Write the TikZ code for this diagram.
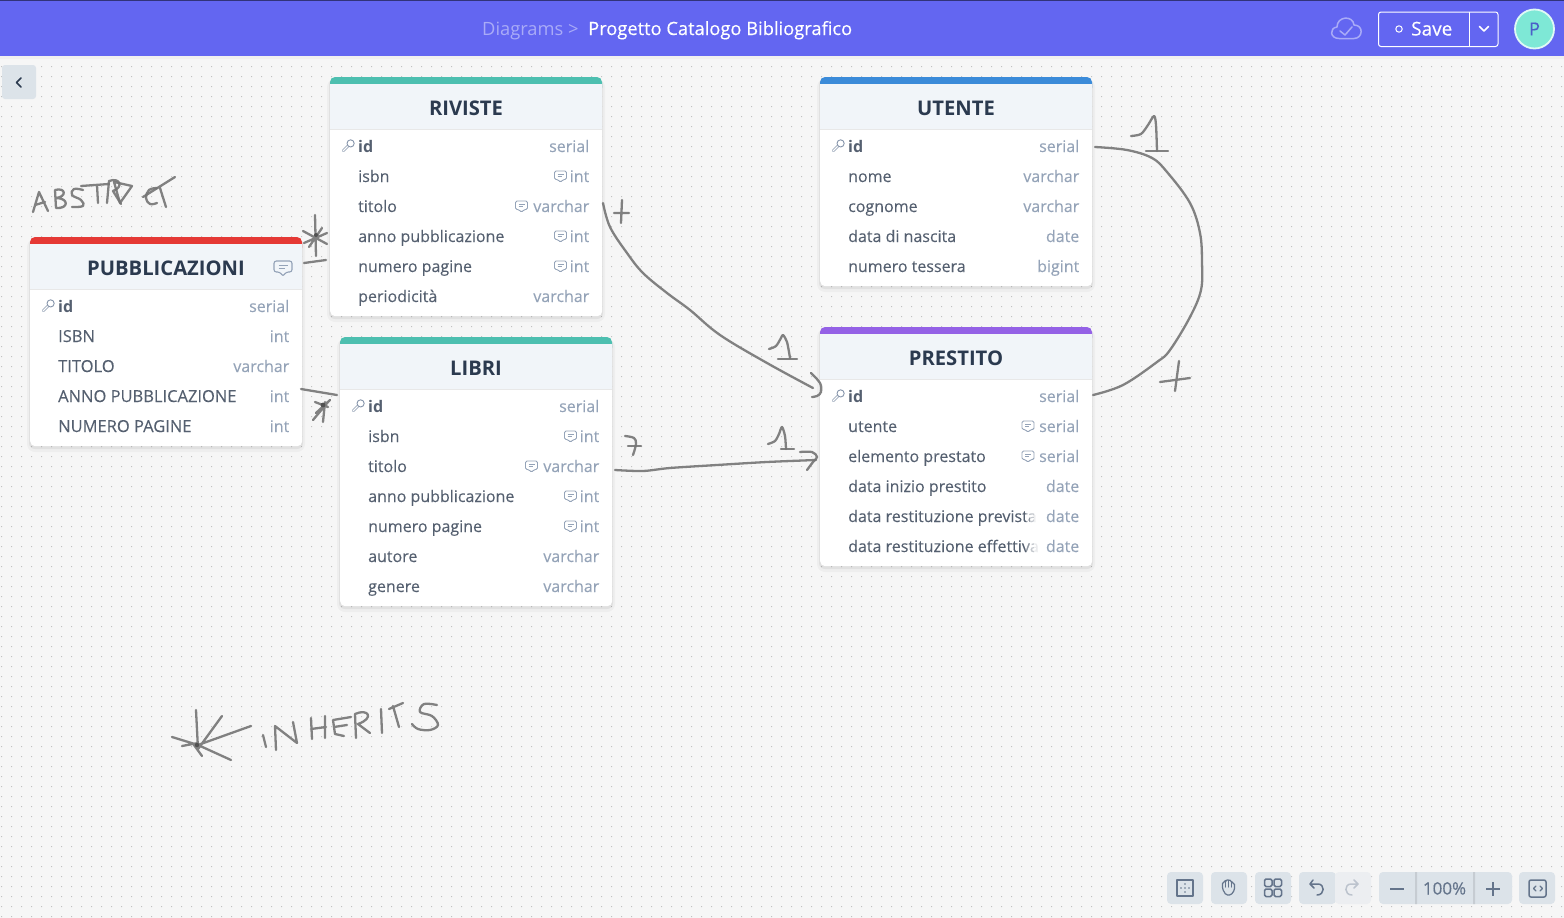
\documentclass[tikz,border=0pt]{standalone}
\usepackage{fontspec}
\setmainfont{Open Sans}
\newfontfamily\medf[FakeBold=0.3]{Open Sans}
\newfontfamily\rowf[FakeBold=0.12]{Open Sans}
\definecolor{bgc}{HTML}{F6F6F6}
\definecolor{dotc}{HTML}{C2C2C2}
\definecolor{barc}{HTML}{6366F1}
\definecolor{headc}{HTML}{F1F5F9}
\definecolor{titlec}{HTML}{2B3A4F}
\definecolor{rowc}{HTML}{556070}
\definecolor{typec}{HTML}{94A3B8}
\definecolor{inkc}{HTML}{757575}
\definecolor{toolc}{HTML}{DCE3E9}
\definecolor{toolt}{HTML}{64748B}
\definecolor{redc}{HTML}{E53935}
\definecolor{tealc}{HTML}{4DBFB0}
\definecolor{bluec}{HTML}{3B8BD9}
\definecolor{purplec}{HTML}{9461E6}
\definecolor{avac}{HTML}{7EE8D6}
\definecolor{avat}{HTML}{4B5FC9}
\tikzset{x=1pt,y=-1pt,
 ink/.style={draw=inkc,line width=2.3pt,line cap=round,line join=round,opacity=.9},
 fname/.style={anchor=base west,inner sep=0,font=\rowf\fontsize{16}{16}\selectfont,text=rowc},
 ftype/.style={anchor=base east,inner sep=0,font=\rowf\fontsize{16}{16}\selectfont,text=typec},
 ttl/.style={anchor=base,inner sep=0,font=\fontsize{20.2}{21}\selectfont\bfseries,text=titlec},
 toolbtn/.style={fill=toolc,rounded corners=4pt},
 toolic/.style={draw=toolt,line width=1.5pt,line cap=round,line join=round}}
% comment icon at centre
\newcommand{\cmt}[2]{\draw[typec,line width=.9pt,line join=round,rounded corners=1.4pt] (#1-6,#2-5.5) -- (#1+6,#2-5.5) -- (#1+6,#2+3) -- (#1+2.5,#2+3) -- (#1,#2+6) -- (#1-2.5,#2+3) -- (#1-6,#2+3) -- cycle;
 \draw[typec,line width=.8pt] (#1-3,#2-2.5) -- (#1+3,#2-2.5) (#1-3,#2+.2) -- (#1+1,#2+.2);}
\newcommand{\cmtbig}[2]{\draw[typec,line width=1.1pt,line join=round,rounded corners=2.4pt] (#1-9,#2-7) -- (#1+9,#2-7) -- (#1+9,#2+4) -- (#1+3,#2+4) -- (#1,#2+8.5) -- (#1-3,#2+4) -- (#1-9,#2+4) -- cycle;
 \draw[typec,line width=1pt] (#1-4.5,#2-3) -- (#1+4.5,#2-3) (#1-4.5,#2+.3) -- (#1+1.5,#2+.3);}
% key icon
\newcommand{\keyic}[2]{\draw[typec!70!toolt,line width=2.8pt,line cap=round] (#1+1,#2-1) -- (#1-4.6,#2+4.6);
 \draw[white,line width=1.2pt,line cap=round] (#1+1,#2-1) -- (#1-4.6,#2+4.6);
 \draw[typec!70!toolt,fill=white,line width=.9pt] (#1+2.6,#2-2.6) circle (3.6);}
% table frame: name, left, top, width, height, colour, title
\newcommand{\tableframe}[7]{%
 \fill[black,opacity=.03,rounded corners=8pt] (#2-3,#3+2) rectangle (#2+#4+3,#3+#5+6);
 \fill[black,opacity=.06,rounded corners=6pt] (#2-1,#3+2) rectangle (#2+#4+1,#3+#5+3);
 \node[name=#1,anchor=north west,inner sep=0,minimum width=#4pt,minimum height=#5pt,fill=white,rounded corners=5pt] at (#2,#3) {};
 \fill[#6,rounded corners=5pt] (#2,#3) rectangle (#2+#4,#3+16);
 \fill[headc] (#2,#3+7) rectangle (#2+#4,#3+52);
 \draw[black!9,line width=1pt] (#2,#3+52.5) -- (#2+#4,#3+52.5);
 \node[ttl,name=#1t] at (#2+#4/2,#3+38) {#7};}
% rows
\newcommand{\idrow}[5]{\keyic{#1+18}{#2+#3}\node[fname,font=\fontsize{16}{16}\selectfont\bfseries,name=#4a] at (#1+28,#2+6+#3) {id};\node[ftype,name=#4b] at (#1+259.5,#2+6+#3) {#5};}
\newcommand{\rowx}[6]{\node[fname,name=#4a] at (#1+28,#2+6+#3) {#5};\node[ftype,name=#4b] at (#1+259.5,#2+6+#3) {#6};}
\newcommand{\upp}[1]{{\fontsize{16.5}{16}\selectfont #1}}
\begin{document}
\begin{tikzpicture}
\useasboundingbox (0,0) rectangle (1564,918);
\fill[bgc] (0,0) rectangle (1564,918);
\foreach \j in {0,...,85} { \fill[dotc] foreach \i in {0,...,156} { (1.2+\i*10,66.2+\j*10) rectangle ++(1,1) }; }
% top bar
\fill[black!6] (0,55) rectangle (1564,59);
\fill[barc] (0,0) rectangle (1564,56);
\fill[black!50!barc] (0,0) rectangle (1564,1);
\node[anchor=base west,inner sep=0,text=white,opacity=.45,font=\fontsize{18.3}{18}\selectfont] (crumb) at (482,35) {Diagrams >};
\node[anchor=base west,inner sep=0,text=white,font=\medf\fontsize{18.3}{18}\selectfont] (proj) at (588,35) {Progetto Catalogo Bibliografico};
% cloud
\draw[white,opacity=.45,line width=1.5pt,line join=round,line cap=round] (1339,38.5) .. controls (1330,38.5) and (1329,28) .. (1337,27) .. controls (1337,16) and (1353,15) .. (1354,25) .. controls (1364,25) and (1363,38.5) .. (1354,38.5) -- cycle (1340,31) -- (1345,35) -- (1352,27);
\node[name=savebtn,draw=white,line width=1pt,rounded corners=2.5pt,minimum width=119.5pt,minimum height=34.5pt,inner sep=0,anchor=north west] at (1378,11.5) {};
\draw[white,line width=1pt] (1469.5,11.5) -- (1469.5,45.5);
\draw[white,line width=1pt] (1399,29) circle (3.2);
\node[anchor=base west,inner sep=0,text=white,font=\medf\fontsize{19}{20}\selectfont] (savet) at (1411,35.5) {Save};
\draw[white,line width=1.5pt,line cap=round,line join=round] (1479.5,26.5) -- (1484,31) -- (1488.5,26.5);
\node[name=avatar,circle,draw=white!75!avac,line width=1.8pt,fill=avac,minimum size=39pt,inner sep=0,text=avat,font=\medf\fontsize{18}{18}\selectfont] at (1534.5,29) {P};
% back button
\fill[toolbtn,rounded corners=3pt] (2,65) rectangle (36,99);
\draw[titlec,line width=1.7pt,line cap=round,line join=round] (21,78) -- (16.5,82.5) -- (21,87);
% PUBBLICAZIONI
\tableframe{pub}{30}{237}{272}{209}{redc}{PUBBLICAZIONI}
\idrow{30}{300}{6}{pub1}{serial}
\rowx{30}{330}{6}{pub2}{\upp{ISBN}}{int}
\rowx{30}{360}{6}{pub3}{\upp{TITOLO}}{varchar}
\rowx{30}{390}{6}{pub4}{\upp{ANNO PUBBLICAZIONE}}{int}
\rowx{30}{420}{6}{pub5}{\upp{NUMERO PAGINE}}{int}
\cmtbig{283}{268}
% RIVISTE
\tableframe{riv}{330}{77}{272}{239}{tealc}{RIVISTE}
\idrow{330}{140}{6}{riv1}{serial}
\rowx{330}{170}{6}{riv2}{isbn}{int}\cmt{560.5}{176.5}
\rowx{330}{200}{6}{riv3}{titolo}{varchar}\cmt{521.5}{206.5}
\rowx{330}{230}{6}{riv4}{anno pubblicazione}{int}\cmt{560.5}{236.5}
\rowx{330}{260}{6}{riv5}{numero pagine}{int}\cmt{560.5}{266.5}
\rowx{330}{290}{6}{riv6}{periodicità}{varchar}
% LIBRI
\tableframe{lib}{340}{337}{272}{269}{tealc}{LIBRI}
\idrow{340}{400}{6}{lib1}{serial}
\rowx{340}{430}{6}{lib2}{isbn}{int}\cmt{570.5}{436.5}
\rowx{340}{460}{6}{lib3}{titolo}{varchar}\cmt{531.5}{466.5}
\rowx{340}{490}{6}{lib4}{anno pubblicazione}{int}\cmt{570.5}{496.5}
\rowx{340}{520}{6}{lib5}{numero pagine}{int}\cmt{570.5}{526.5}
\rowx{340}{550}{6}{lib6}{autore}{varchar}
\rowx{340}{580}{6}{lib7}{genere}{varchar}
% UTENTE
\tableframe{ute}{820}{77}{272}{209}{bluec}{UTENTE}
\idrow{820}{140}{6}{ute1}{serial}
\rowx{820}{170}{6}{ute2}{nome}{varchar}
\rowx{820}{200}{6}{ute3}{cognome}{varchar}
\rowx{820}{230}{6}{ute4}{data di nascita}{date}
\rowx{820}{260}{6}{ute5}{numero tessera}{bigint}
% PRESTITO
\tableframe{pre}{820}{327}{272}{239}{purplec}{PRESTITO}
\idrow{820}{390}{6}{pre1}{serial}
\rowx{820}{420}{6}{pre2}{utente}{serial}\cmt{1028}{426.5}
\rowx{820}{450}{6}{pre3}{elemento prestato}{serial}\cmt{1028}{456.5}
\rowx{820}{480}{6}{pre4}{data inizio prestito}{date}
\rowx{820}{510}{6}{pre5}{data restituzione prevista}{date}
\rowx{820}{540}{6}{pre6}{data restituzione effettiva}{date}
\fill[white,opacity=.35] (1026,506) rectangle (1030,526) (1026,536) rectangle (1030,556);
\fill[white,opacity=.65] (1030,506) rectangle (1034,526) (1030,536) rectangle (1034,556);
\fill[white,opacity=.88] (1034,506) rectangle (1042,526) (1034,536) rectangle (1042,556);
% hand-drawn connectors and marks
\coordinate (rivEnd) at (603,203);
\coordinate (preA) at (813,388);
\coordinate (libEnd) at (615,470);
\coordinate (preB) at (816,460);
\coordinate (uteEnd) at (1095,147);
\coordinate (preC) at (1093,395);
\draw[ink] plot[smooth,tension=.6] coordinates {(rivEnd) (610,227) (627,253) (643,273) (667,293) (690,310) (720,335) (767,363) (preA)};
\draw[ink] plot[smooth,tension=.6] coordinates {(811,373) (820,383) (821,392) (817,396) (812,397)};
\draw[ink] plot[smooth,tension=.5] coordinates {(libEnd) (643,471) (670,468) (717,465) (767,462) (preB)};
\draw[ink] plot[smooth,tension=.6] coordinates {(800,452) (812,452) (817,457) (813,462) (807,470)};
\draw[ink] plot[smooth,tension=.6] coordinates {(uteEnd) (1127,150) (1152,158) (1167,172) (1190,203) (1200,233) (1202,262) (1201,290) (1190,317) (1170,350) (1157,362) (1123,385) (preC)};
% 1 marks
\draw[ink] plot[smooth,tension=.5] coordinates {(1131,136) (1141,134) (1148,125) (1154,116) (1156,125) (1157,151)};
\draw[ink] (1146,151) -- (1168,151);
\draw[ink] plot[smooth,tension=.5] coordinates {(769,349) (776,346) (781,338) (783,335) (787,342) (790,358)};
\draw[ink] (778,359) -- (797,359);
\draw[ink] plot[smooth,tension=.5] coordinates {(768,444) (775,441) (779,434) (782,427) (785,436) (786,449)};
\draw[ink] (781,449) -- (794,449);
% + marks
\draw[ink] (622,200) -- (621,223) (614,213) -- (629,213);
\draw[ink] (1179,361) -- (1175,391) (1160,382) -- (1190,378);
\draw[ink] plot[smooth,tension=.6] coordinates {(625,436) (634,438) (636,444) (633,455)};
\draw[ink] (628,446) -- (641,446);
% star at RIVISTE / PUBBLICAZIONI
\draw[ink] (315,215) -- (316,256) (303,231) -- (327,244) (304,243) -- (327,233) (309,247) -- (322,228);
\draw[ink] (304,263) -- (326,260);
\fill[inkc!70!black] (316,235) circle (2);
% star at LIBRI
\draw[ink] (301,389) -- (337,395);
\draw[ink] (313,420) -- (328,402) (323,422) -- (325,402) (315,402) -- (328,407) (316,413) -- (330,400);
\fill[inkc!70!black] (323,405) circle (2.4);
% ABSTRACT
\draw[ink] (33,212) -- (39,192) -- (48,211) (35,205) -- (45,202);
\draw[ink] (55,190) -- (56,208) (55,190) .. controls (66,187) and (67,197) .. (56,198) .. controls (69,198) and (69,209) .. (56,208);
\draw[ink] plot[smooth,tension=.7] coordinates {(83,190) (74,189) (72,195) (81,200) (83,206) (72,207)};
\draw[ink] (81,186) -- (109,184) (97,185) -- (98,203);
\draw[ink] (107,203) -- (109,181) .. controls (120,177) and (124,187) .. (113,191) -- (121,204);
\draw[ink] (114,182) -- (120,203) -- (132,186) -- cycle;
\draw[ink] plot[smooth,tension=.7] coordinates {(157,188) (149,190) (146,198) (150,204) (157,203)};
\draw[ink] (143,197) -- (175,177) (160,188) -- (166,207);
% INHERITS star
\draw[ink] (196,710) -- (198,749) -- (222,716) (198,745) -- (251,726) (172,737) -- (198,745) -- (231,760) (182,746) -- (198,743) (194,745) -- (202,756);
\fill[inkc!70!black] (197,745) circle (2.2);
% INHERITS
\draw[ink] (263,735) -- (266,747);
\draw[ink] (276,750) -- (275,726) -- (297,743) -- (293,722);
\draw[ink] (311,718) -- (312,739) (325,716) -- (325,738) (311,729) -- (326,727);
\draw[ink] (351,717) -- (333,720) -- (335,734) -- (344,736) (334,727) -- (347,725);
\draw[ink] (356,738) -- (355,714) .. controls (368,708) and (375,718) .. (358,724) -- (370,733);
\draw[ink] (381,709) -- (382,733);
\draw[ink] (393,706) -- (399,727) (389,709) -- (403,703);
\draw[ink] plot[smooth,tension=.6] coordinates {(437,705) (424,704) (420,712) (432,716) (438,725) (430,730) (418,729) (412,724)};
% bottom toolbar
\fill[toolbtn] (1167,872) rectangle (1203,904);
\fill[toolbtn] (1211,872) rectangle (1247,904);
\fill[toolbtn] (1255,872) rectangle (1291,904);
\fill[toolbtn] (1299,872) rectangle (1336,904);
\fill[toolc!40!bgc,rounded corners=4pt] (1335,872) rectangle (1371,904);
\fill[toolbtn] (1379,872) rectangle (1512,904);
\fill[black!10!toolc] (1415,872) rectangle (1417,904) (1473,872) rectangle (1475,904);
\fill[toolbtn] (1519,872) rectangle (1555,904);
\draw[toolic,line cap=butt] (1177,880) rectangle (1193,896);
\fill[toolt] foreach \p in {(1185,884),(1181,888),(1185,888),(1189,888),(1185,892)} { \p circle (.9) };
\draw[toolic,line width=1.2pt,rounded corners=1.5pt] (1222.5,889) -- (1222.5,882) -- (1225.5,882) -- (1225.5,880) -- (1228.5,880) -- (1231.5,880.5) -- (1231.5,883) -- (1234.5,883) -- (1234.5,890) -- (1231,895) -- (1226,895) -- cycle;
\draw[toolic,line width=1pt] (1225.5,882) -- (1225.5,887) (1228.5,880) -- (1228.5,887) (1231.5,882) -- (1231.5,887);
\draw[toolic,rounded corners=1.5pt] (1264.5,879) rectangle (1272,886.5) (1274,879) rectangle (1281.5,886.5) (1264.5,889) rectangle (1272,896.5) (1274,889) rectangle (1281.5,896.5);
\draw[toolic] (1313,880) -- (1310,884) -- (1314,888) (1310,884) -- (1318,884) .. controls (1325,884) and (1325,895) .. (1317,895);
\draw[toolic,opacity=.35] (1354,880) -- (1358,884) -- (1354,888) (1358,884) -- (1351,884) .. controls (1344,884) and (1344,895) .. (1352,895);
\draw[toolic,line width=2.4pt,line cap=butt] (1390,889) -- (1404,889);
\node[anchor=base,inner sep=0,text=toolt,font=\medf\fontsize{17}{17}\selectfont] (zoomt) at (1444.5,894.5) {100\%};
\draw[toolic,line width=2.4pt,line cap=butt] (1486,889) -- (1500,889) (1493,882) -- (1493,896);
\draw[toolic,rounded corners=2pt] (1529,880) rectangle (1546,897);
\draw[toolic,line width=1.1pt] (1536,886) -- (1533.5,888.5) -- (1536,891) (1540,886) -- (1542.5,888.5) -- (1540,891);
\end{tikzpicture}
\end{document}
